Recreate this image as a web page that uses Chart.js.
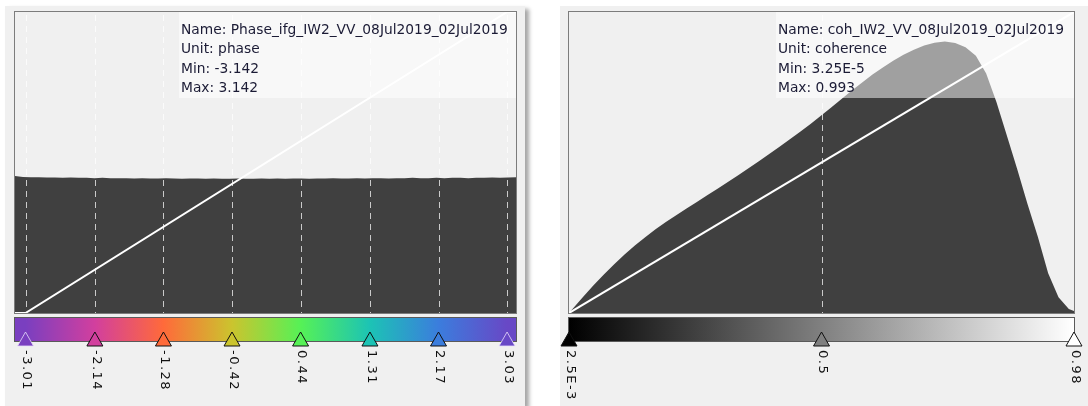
<!DOCTYPE html>
<html>
<head>
<meta charset="utf-8">
<script src="https://cdn.jsdelivr.net/npm/chart.js@4.4.1/dist/chart.umd.min.js"></script>
<style>
  html, body { margin: 0; padding: 0; background: #ffffff; }
  body { width: 1088px; height: 406px; position: relative; overflow: hidden; }
  .panel { position: absolute; top: 6px; height: 400px; background: #f0f0f0; }
  #leftPanel { left: 5px; width: 520px; box-shadow: 4px 3px 4px rgba(0, 0, 0, 0.35); }
  #rightPanel { left: 560px; width: 528px; }
  canvas { display: block; }
</style>
</head>
<body>
<div class="panel" id="leftPanel"><canvas id="phaseChart" width="520" height="400"></canvas></div>
<div class="panel" id="rightPanel"><canvas id="cohChart" width="528" height="400"></canvas></div>
<script>
// --- Phase band data ---
const phaseInfo = ['Name: Phase_ifg_IW2_VV_08Jul2019_02Jul2019', 'Unit: phase', 'Min: -3.142', 'Max: 3.142'];
const phaseMin = -3.142;
const phaseMax = 3.142;
// histogram height per bin (share of plot height), bins spread evenly from min to max
const phaseCounts = [0.455, 0.452, 0.451, 0.451, 0.450, 0.450, 0.449, 0.450, 0.449, 0.449, 0.448, 0.449, 0.448, 0.448, 0.448, 0.447,
                     0.448, 0.447, 0.447, 0.448, 0.447, 0.446, 0.447, 0.447, 0.446, 0.447, 0.446, 0.446, 0.447, 0.446, 0.446, 0.447,
                     0.446, 0.447, 0.446, 0.447, 0.447, 0.446, 0.447, 0.447, 0.448, 0.447, 0.447, 0.448, 0.447, 0.448, 0.448, 0.447,
                     0.448, 0.448, 0.449, 0.448, 0.448, 0.449, 0.448, 0.449, 0.449, 0.448, 0.449, 0.449, 0.450, 0.449, 0.450, 0.451];
const phaseSliders = [-3.01, -2.14, -1.28, -0.42, 0.44, 1.31, 2.17, 3.03];
const phaseSliderLabels = ['-3.01', '-2.14', '-1.28', '-0.42', '0.44', '1.31', '2.17', '3.03'];
const phaseSliderColors = ['#7a3fc0', '#d23f9e', '#ff6a3a', '#cbc42e', '#56f156', '#1cc3b5', '#3b7ddd', '#6848c6'];

// --- Coherence band data ---
const cohInfo = ['Name: coh_IW2_VV_08Jul2019_02Jul2019', 'Unit: coherence', 'Min: 3.25E-5', 'Max: 0.993'];
const cohMin = 0.0000325;
const cohMax = 0.993;
const cohLevels = [0.0025, 0.03, 0.05, 0.07, 0.09, 0.11, 0.13, 0.15, 0.17, 0.19, 0.21, 0.23, 0.25, 0.27, 0.29, 0.31, 0.33,
                   0.35, 0.37, 0.39, 0.41, 0.43, 0.45, 0.47, 0.49, 0.51, 0.53, 0.55, 0.57, 0.59, 0.61, 0.63, 0.65, 0.67,
                   0.69, 0.71, 0.73, 0.75, 0.77, 0.79, 0.81, 0.83, 0.85, 0.87, 0.89, 0.91, 0.93, 0.95, 0.97, 0.99];
const cohCounts = [0.000, 0.054, 0.092, 0.128, 0.162, 0.194, 0.224, 0.252, 0.278, 0.302, 0.325, 0.347, 0.369, 0.391, 0.413, 0.435, 0.458,
                   0.481, 0.504, 0.528, 0.552, 0.577, 0.602, 0.628, 0.655, 0.683, 0.711, 0.739, 0.766, 0.792, 0.816, 0.838, 0.858, 0.875,
                   0.889, 0.898, 0.902, 0.897, 0.883, 0.855, 0.796, 0.700, 0.590, 0.478, 0.362, 0.253, 0.132, 0.052, 0.013, 0.000];
const cohSliders = [0.0025, 0.4913, 0.98];
const cohSliderLabels = ['2.5E-3', '0.5', '0.98'];
const cohSliderColors = ['#000000', '#808080', '#ffffff'];

// --- Helper: draw the panel extras (dashes, info box, colour bar, sliders) ---
function panelPlugin(opts) {
  return {
    id: 'panelExtras',
    beforeDatasetDraw(chart, args) {
      if (args.index !== 1) return;
      const { ctx, chartArea: a, scales: { x } } = chart;
      ctx.save();
      // dashed slider guides
      ctx.strokeStyle = 'rgba(255, 255, 255, 0.72)';
      ctx.lineWidth = 1;
      ctx.setLineDash([6, 5]);
      opts.sliders.forEach(v => {
        const px = Math.round(x.getPixelForValue(v)) + 0.5;
        if (px < a.left + 2 || px > a.right - 2) return;
        ctx.beginPath();
        ctx.moveTo(px, a.top + 3);
        ctx.lineTo(px, a.bottom);
        ctx.stroke();
      });
      ctx.setLineDash([]);
      // translucent info box
      ctx.fillStyle = 'rgba(255, 255, 255, 0.5)';
      ctx.fillRect(opts.boxLeft, a.top, a.right - opts.boxLeft, opts.boxBottom - a.top);
      ctx.restore();
    },
    afterDatasetsDraw(chart) {
      const { ctx, chartArea: a, scales: { x } } = chart;
      ctx.save();
      // plot frame
      ctx.strokeStyle = '#7c7c7c';
      ctx.lineWidth = 1;
      ctx.strokeRect(a.left - 0.5, a.top - 0.5, a.right - a.left + 1, a.bottom - a.top + 1);

      // info text
      ctx.fillStyle = '#1b1b35';
      ctx.font = '13.8px "DejaVu Sans", sans-serif';
      ctx.textBaseline = 'middle';
      opts.info.forEach((t, i) => ctx.fillText(t, opts.boxLeft + 2, a.top + 18 + i * 19.5));

      // colour bar
      const barTop = a.bottom + 5, barH = 23;
      const x0 = x.getPixelForValue(opts.sliders[0]);
      const x1 = x.getPixelForValue(opts.sliders[opts.sliders.length - 1]);
      const grad = ctx.createLinearGradient(x0, 0, x1, 0);
      opts.sliders.forEach((v, i) => {
        grad.addColorStop((x.getPixelForValue(v) - x0) / (x1 - x0), opts.colors[i]);
      });
      ctx.fillStyle = grad;
      ctx.fillRect(a.left, barTop, a.right - a.left, barH);
      ctx.strokeStyle = '#5a5a5a';
      ctx.strokeRect(a.left - 0.5, barTop - 0.5, a.right - a.left + 1, barH + 1);

      // slider triangles
      opts.sliders.forEach((v, i) => {
        const px = x.getPixelForValue(v);
        ctx.beginPath();
        ctx.moveTo(px, barTop + 14);
        ctx.lineTo(px + 8, barTop + 28);
        ctx.lineTo(px - 8, barTop + 28);
        ctx.closePath();
        ctx.fillStyle = opts.colors[i];
        ctx.fill();
        const isEnd = i === 0 || i === opts.sliders.length - 1;
        ctx.strokeStyle = (opts.softEnds && isEnd) ? 'rgba(230, 220, 250, 0.8)' : '#111111';
        ctx.lineWidth = 1;
        ctx.stroke();
      });

      // rotated slider labels
      ctx.fillStyle = '#111111';
      ctx.font = '13px "DejaVu Sans", sans-serif';
      ctx.letterSpacing = '1.5px';
      ctx.textBaseline = 'middle';
      ctx.textAlign = 'left';
      opts.sliders.forEach((v, i) => {
        const px = x.getPixelForValue(v);
        ctx.save();
        ctx.translate(px + 1, barTop + 32);
        ctx.rotate(Math.PI / 2);
        ctx.fillText(opts.labels[i], 0, 0);
        ctx.restore();
      });
      ctx.restore();
    }
  };
}

// --- Helper: build one histogram panel ---
function buildPanel(canvasId, hist, line, range, padding, opts) {
  new Chart(document.getElementById(canvasId), {
    type: 'line',
    data: {
      datasets: [
        {
          data: hist,
          fill: 'origin',
          backgroundColor: '#404040',
          borderWidth: 0,
          pointRadius: 0,
          tension: 0,
          order: 2
        },
        {
          data: line,
          fill: false,
          borderColor: '#ffffff',
          borderWidth: 2,
          pointRadius: 0,
          tension: 0,
          order: 1
        }
      ]
    },
    options: {
      responsive: false,
      animation: false,
      parsing: false,
      layout: { padding: padding },
      scales: {
        x: { type: 'linear', display: false, min: range[0], max: range[1] },
        y: { type: 'linear', display: false, min: 0, max: 1 }
      },
      plugins: { legend: { display: false }, tooltip: { enabled: false } }
    },
    plugins: [panelPlugin(opts)]
  });
}

// --- Phase panel ---
const phaseHist = phaseCounts.map((c, i) => ({
  x: phaseMin + i * (phaseMax - phaseMin) / (phaseCounts.length - 1),
  y: c
}));
const phaseLine = [
  { x: phaseMin, y: 0 },
  { x: phaseSliders[0], y: 0 },
  { x: phaseSliders[phaseSliders.length - 1], y: 1 },
  { x: phaseMax, y: 1 }
];
buildPanel('phaseChart', phaseHist, phaseLine, [phaseMin, phaseMax],
  { left: 10, right: 9, top: 6, bottom: 93 },
  { sliders: phaseSliders, labels: phaseSliderLabels, colors: phaseSliderColors, info: phaseInfo,
    boxLeft: 174, boxBottom: 92, softEnds: true });

// --- Coherence panel ---
const cohHist = cohLevels.map((v, i) => ({ x: v, y: cohCounts[i] }));
const cohLine = [
  { x: cohSliders[0], y: 0 },
  { x: cohSliders[cohSliders.length - 1], y: 1 }
];
buildPanel('cohChart', cohHist, cohLine, [cohSliders[0], cohSliders[cohSliders.length - 1]],
  { left: 9, right: 14, top: 6, bottom: 93 },
  { sliders: cohSliders, labels: cohSliderLabels, colors: cohSliderColors, info: cohInfo,
    boxLeft: 216, boxBottom: 92, softEnds: false });
</script>
</body>
</html>
